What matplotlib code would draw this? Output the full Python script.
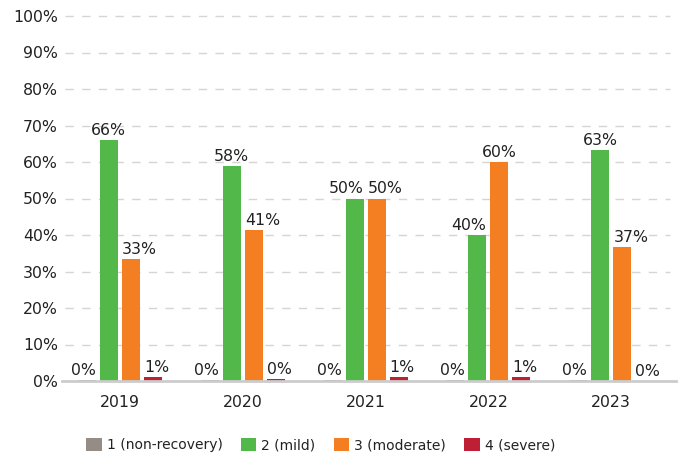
import matplotlib
matplotlib.use("Agg")
import matplotlib.pyplot as plt
from matplotlib.patches import Patch
import numpy as np

years = ["2019", "2020", "2021", "2022", "2023"]
series_names = ["1 (non-recovery)", "2 (mild)", "3 (moderate)", "4 (severe)"]
non_recovery = [0.2, 0.2, 0.2, 0.2, 0.2]
mild = [66.0, 58.9, 50.0, 40.0, 63.3]
moderate = [33.3, 41.4, 50.0, 60.0, 36.6]
severe = [1.0, 0.5, 1.0, 1.0, 0.0]
label_nonrec = ["0%", "0%", "0%", "0%", "0%"]
label_mild = ["66%", "58%", "50%", "40%", "63%"]
label_mod = ["33%", "41%", "50%", "60%", "37%"]
label_sev = ["1%", "0%", "1%", "1%", "0%"]
yticks = [0, 10, 20, 30, 40, 50, 60, 70, 80, 90, 100]

# label alignment relative to bar (style): r = right edge, l = left edge, c = centre
align_nonrec = ["r", "r", "r", "r", "r"]
align_mild = ["c", "c", "r", "r", "c"]
align_mod = ["l", "l", "l", "c", "l"]
align_sev = ["l", "l", "l", "l", "l"]

colors = ["#958c86", "#52b84a", "#f47f22", "#be1f35"]

plt.rcParams['font.family'] = ['DejaVu Sans']
fig = plt.figure(figsize=(6.83, 4.59), dpi=100)
ax = fig.add_axes([62/683, 1-381/459, (676-62)/683, (381-16)/459])

x = np.arange(len(years))
pitch = 122.85
w = 18/pitch
step = 22/pitch
all_vals = [non_recovery, mild, moderate, severe]
all_labels = [label_nonrec, label_mild, label_mod, label_sev]
all_align = [align_nonrec, align_mild, align_mod, align_sev]
for i, (vals, labs, als) in enumerate(zip(all_vals, all_labels, all_align)):
    off = (i - 1.5) * step
    ax.bar(x + off, vals, width=w, color=colors[i], zorder=3)
    for xi, v, lab, al in zip(x + off, vals, labs, als):
        if al == "r":
            tx, ha = xi + w/2, 'right'
        elif al == "l":
            tx, ha = xi - w/2, 'left'
        else:
            tx, ha = xi, 'center'
        ax.text(tx, v + 0.6, lab, ha=ha, va='bottom', fontsize=11.3, color='#222222', zorder=4)

ax.set_xlim(-0.471, 4.527)
ax.set_ylim(0, 100)
ax.set_yticks(yticks)
ax.set_yticklabels([f"{t}%" for t in yticks])
ax.set_xticks(x)
ax.set_xticklabels(years)
ax.tick_params(axis='both', length=0, labelsize=11.3, colors='#222222')
ax.tick_params(axis='y', pad=3)
ax.tick_params(axis='x', pad=10)
for yv in yticks[1:]:
    ax.plot([0.005, 0.99], [yv, yv], transform=ax.get_yaxis_transform(), color='#d9d4d0',
            linewidth=1, dashes=(6, 6), zorder=1, clip_on=False)
for s in ['top', 'right', 'left']:
    ax.spines[s].set_visible(False)
ax.spines['bottom'].set_color('#cccccc')
ax.spines['bottom'].set_linewidth(2)
ax.spines['bottom'].set_zorder(5)

handles = [Patch(facecolor=c, edgecolor='none') for c in colors]
fig.legend(handles, series_names, loc='center left', bbox_to_anchor=(86/683, 1-445/459),
           ncol=4, frameon=False, fontsize=10, handlelength=1.12, handleheight=1.12,
           handletextpad=0.37, columnspacing=1.3, labelcolor='#222222',
           borderpad=0, borderaxespad=0)

fig.savefig("out.png", dpi=100)
